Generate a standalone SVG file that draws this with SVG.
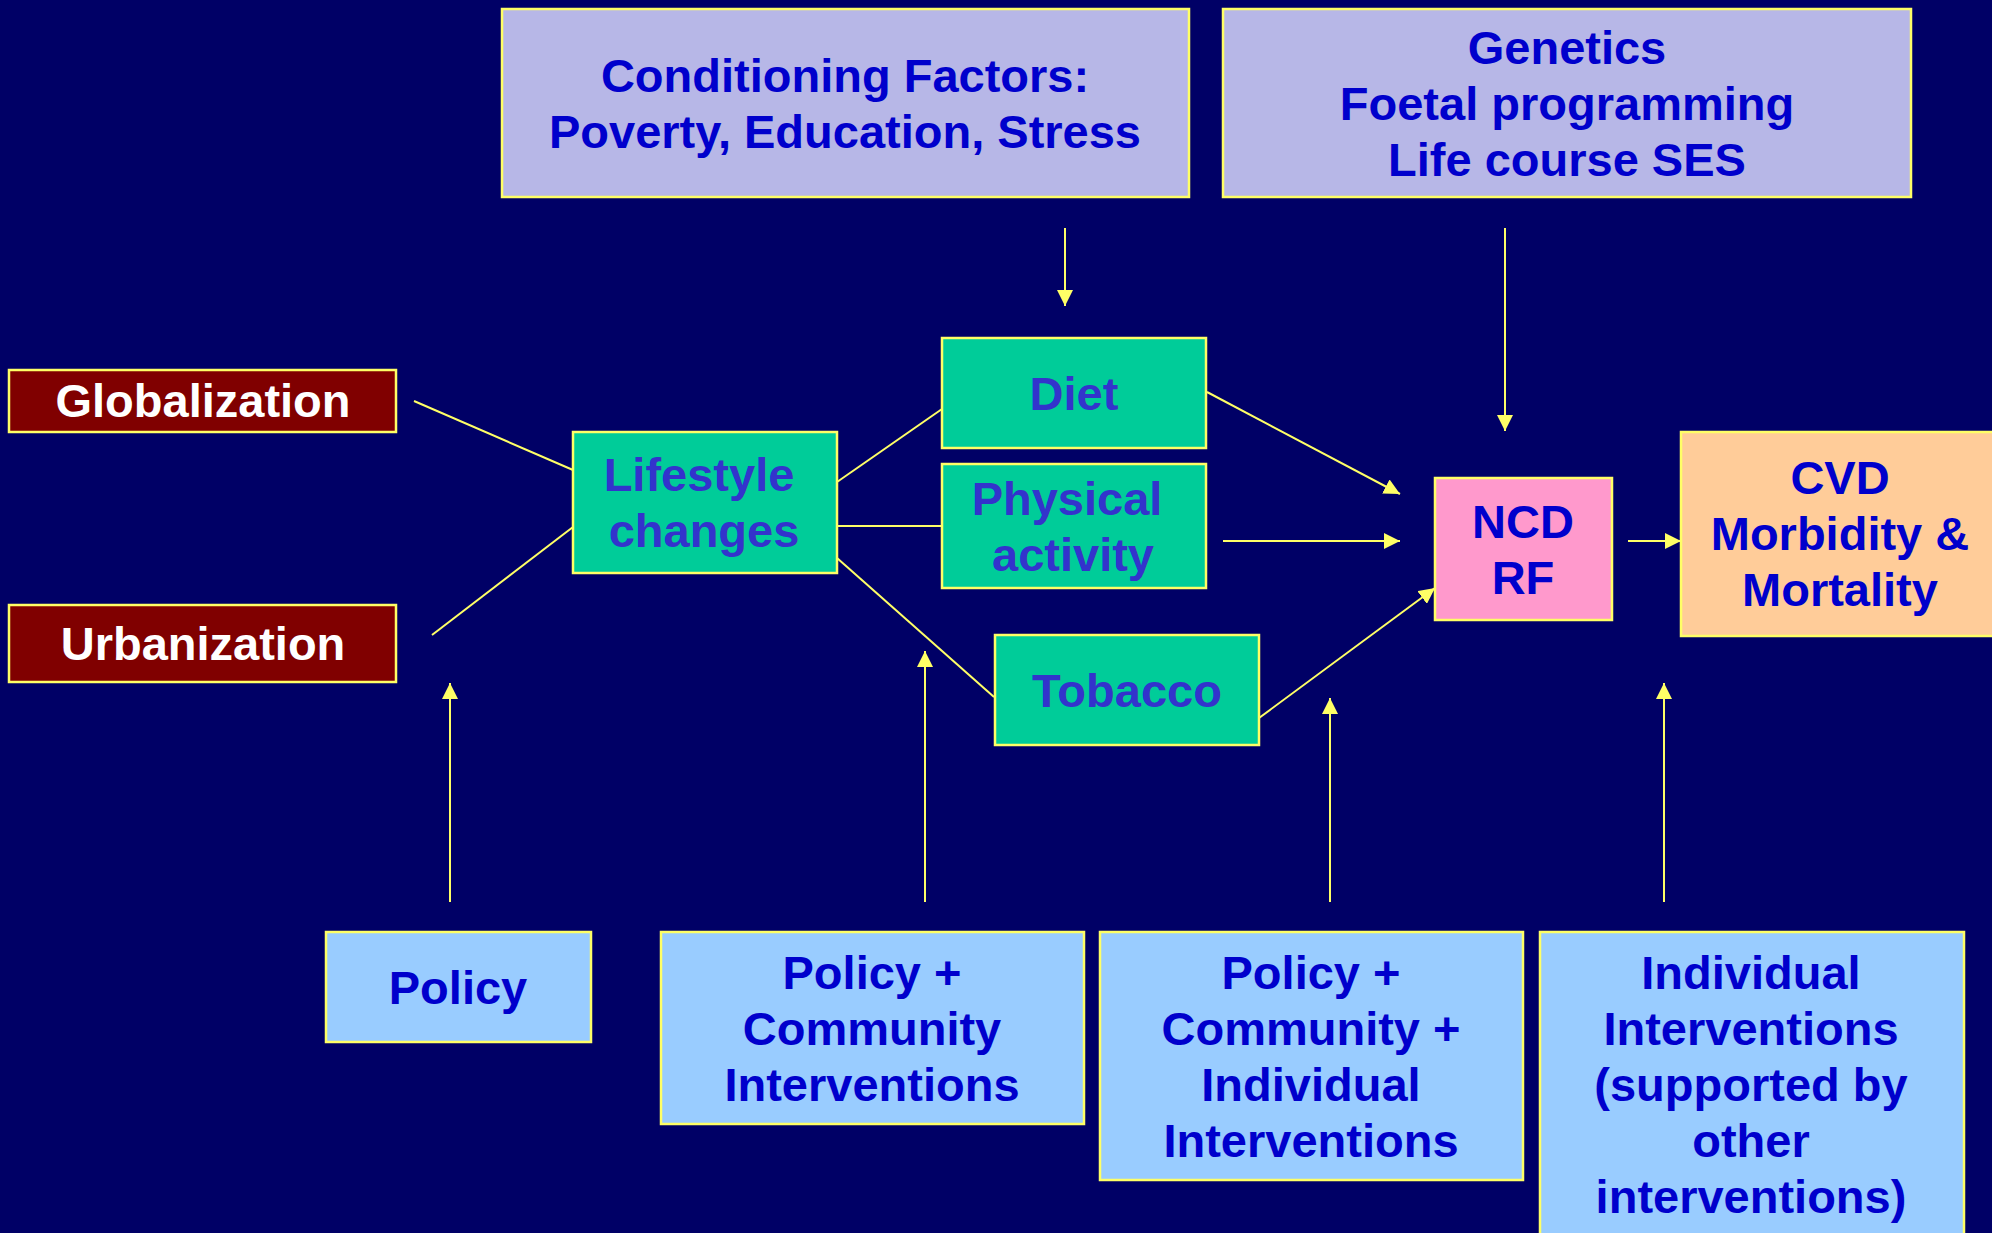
<svg xmlns="http://www.w3.org/2000/svg" width="1992" height="1233" viewBox="0 0 1992 1233">
  <defs>
    <marker id="arrow" markerUnits="userSpaceOnUse" markerWidth="16" markerHeight="16" refX="16" refY="8" orient="auto">
      <path d="M0,0 L16,8 L0,16 Z" fill="#FFFF66"/>
    </marker>
    <style>
      .box { stroke: #FFFF66; stroke-width: 2.5; }
      .t { font-family: "Liberation Sans", Arial, sans-serif; font-weight: bold; font-size: 47px; text-anchor: middle; }
      .lav { fill: #B7B7E7; }
      .red { fill: #800000; }
      .green { fill: #00CC99; }
      .pink { fill: #FF99CC; }
      .peach { fill: #FFCC99; }
      .sky { fill: #99CCFF; }
      .blue { fill: #0000CC; }
      .violet { fill: #3333CC; }
      .white { fill: #FFFFFF; }
      .link { stroke: #FFFF66; stroke-width: 2; fill: none; }
      .arr { marker-end: url(#arrow); }
    </style>
  </defs>

  <!-- background -->
  <rect x="0" y="0" width="1992" height="1233" fill="#000066"/>

  <!-- connectors -->
  <g id="connectors">
    <line class="link arr" x1="1065" y1="228" x2="1065" y2="306"/>
    <line class="link arr" x1="1505" y1="228" x2="1505" y2="431"/>
    <line class="link" x1="414" y1="401" x2="573" y2="470"/>
    <line class="link" x1="432" y1="635" x2="573" y2="527"/>
    <line class="link" x1="837" y1="482" x2="942" y2="409"/>
    <line class="link" x1="837" y1="526" x2="942" y2="526"/>
    <line class="link" x1="837" y1="558" x2="994" y2="697"/>
    <line class="link arr" x1="1207" y1="392" x2="1400" y2="494"/>
    <line class="link arr" x1="1223" y1="541" x2="1400" y2="541"/>
    <line class="link arr" x1="1259" y1="718" x2="1435" y2="588"/>
    <line class="link arr" x1="1628" y1="541" x2="1681" y2="541"/>
    <line class="link arr" x1="450" y1="902" x2="450" y2="683"/>
    <line class="link arr" x1="925" y1="902" x2="925" y2="651"/>
    <line class="link arr" x1="1330" y1="902" x2="1330" y2="698"/>
    <line class="link arr" x1="1664" y1="902" x2="1664" y2="683"/>
  </g>

  <!-- top factors -->
  <g id="conditioning">
    <rect class="box lav" x="502" y="9" width="687" height="188"/>
    <text class="t blue" x="845" y="92">Conditioning Factors:</text>
    <text class="t blue" x="845" y="148">Poverty, Education, Stress</text>
  </g>
  <g id="genetics">
    <rect class="box lav" x="1223" y="9" width="688" height="188"/>
    <text class="t blue" x="1567" y="64">Genetics</text>
    <text class="t blue" x="1567" y="120">Foetal programming</text>
    <text class="t blue" x="1567" y="176">Life course SES</text>
  </g>

  <!-- drivers -->
  <g id="globalization">
    <rect class="box red" x="9" y="370" width="387" height="62"/>
    <text class="t white" x="203" y="417">Globalization</text>
  </g>
  <g id="urbanization">
    <rect class="box red" x="9" y="605" width="387" height="77"/>
    <text class="t white" x="203" y="660">Urbanization</text>
  </g>

  <!-- lifestyle and risk behaviours -->
  <g id="lifestyle">
    <rect class="box green" x="573" y="432" width="264" height="141"/>
    <text class="t violet" x="699" y="491">Lifestyle</text>
    <text class="t violet" x="704" y="547">changes</text>
  </g>
  <g id="diet">
    <rect class="box green" x="942" y="338" width="264" height="110"/>
    <text class="t violet" x="1074" y="410">Diet</text>
  </g>
  <g id="physical-activity">
    <rect class="box green" x="942" y="464" width="264" height="124"/>
    <text class="t violet" x="1067" y="515">Physical</text>
    <text class="t violet" x="1073" y="571">activity</text>
  </g>
  <g id="tobacco">
    <rect class="box green" x="995" y="635" width="264" height="110"/>
    <text class="t violet" x="1127" y="707">Tobacco</text>
  </g>

  <!-- outcomes -->
  <g id="ncd-rf">
    <rect class="box pink" x="1435" y="478" width="177" height="142"/>
    <text class="t blue" x="1523" y="538">NCD</text>
    <text class="t blue" x="1523" y="594">RF</text>
  </g>
  <g id="cvd">
    <rect class="box peach" x="1681" y="432" width="320" height="204"/>
    <text class="t blue" x="1840" y="494">CVD</text>
    <text class="t blue" x="1840" y="550">Morbidity &amp;</text>
    <text class="t blue" x="1840" y="606">Mortality</text>
  </g>

  <!-- interventions -->
  <g id="policy">
    <rect class="box sky" x="326" y="932" width="265" height="110"/>
    <text class="t blue" x="458" y="1004">Policy</text>
  </g>
  <g id="policy-community">
    <rect class="box sky" x="661" y="932" width="423" height="192"/>
    <text class="t blue" x="872" y="989">Policy +</text>
    <text class="t blue" x="872" y="1045">Community</text>
    <text class="t blue" x="872" y="1101">Interventions</text>
  </g>
  <g id="policy-community-individual">
    <rect class="box sky" x="1100" y="932" width="423" height="248"/>
    <text class="t blue" x="1311" y="989">Policy +</text>
    <text class="t blue" x="1311" y="1045">Community +</text>
    <text class="t blue" x="1311" y="1101">Individual</text>
    <text class="t blue" x="1311" y="1157">Interventions</text>
  </g>
  <g id="individual">
    <rect class="box sky" x="1540" y="932" width="424" height="310"/>
    <text class="t blue" x="1751" y="989">Individual</text>
    <text class="t blue" x="1751" y="1045">Interventions</text>
    <text class="t blue" x="1751" y="1101">(supported by</text>
    <text class="t blue" x="1751" y="1157">other</text>
    <text class="t blue" x="1751" y="1213">interventions)</text>
  </g>
</svg>
